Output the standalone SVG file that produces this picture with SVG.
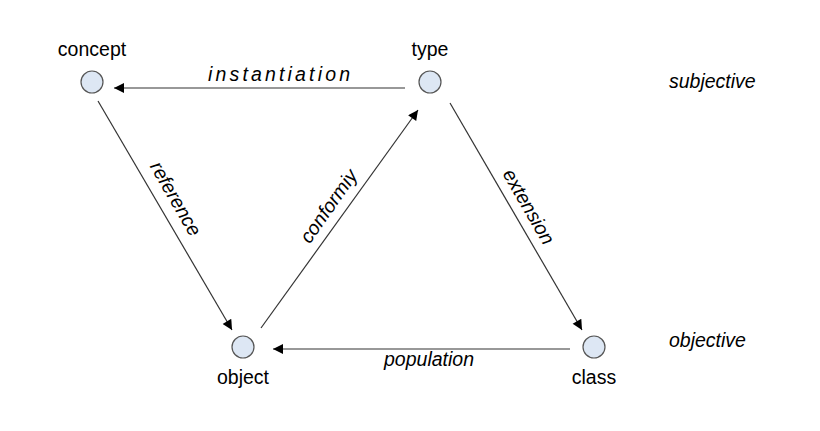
<svg xmlns="http://www.w3.org/2000/svg" width="820" height="431" viewBox="0 0 820 431">
<style>
text{font-family:"Liberation Sans",Arial,sans-serif;font-size:19.5px;fill:#000}
.i{font-style:italic}
circle{fill:#dde7f4;stroke:#555;stroke-width:1.2}
line{stroke:#333;stroke-width:1.2;marker-end:url(#a)}
</style>
<defs><marker id="a" viewBox="0 0 10 10" refX="10" refY="5" markerWidth="14" markerHeight="10" markerUnits="userSpaceOnUse" orient="auto"><path d="M0,0L10,5L0,10z" fill="#000"/></marker></defs>
<rect width="820" height="431" fill="#fff"/>
<g id="connectors">
<line x1="405" y1="88" x2="114" y2="88"/>
<line x1="98" y1="101" x2="232" y2="330"/>
<line x1="261" y1="328" x2="418" y2="110"/>
<line x1="450" y1="103" x2="582" y2="330"/>
<line x1="570" y1="349" x2="273" y2="349"/>
<text class="i" x="279" y="81" text-anchor="middle" textLength="142">instantiation</text>
<text class="i" transform="translate(170,202) rotate(60)" text-anchor="middle">reference</text>
<text class="i" transform="translate(334,210) rotate(-55)" text-anchor="middle">conformiy</text>
<text class="i" transform="translate(523,210) rotate(60)" text-anchor="middle">extension</text>
<text class="i" x="429" y="366" text-anchor="middle">population</text>
</g>
<g id="concept"><circle cx="92" cy="82" r="11"/><text x="92" y="56" text-anchor="middle">concept</text></g>
<g id="type"><circle cx="430" cy="82" r="11"/><text x="430" y="56" text-anchor="middle">type</text></g>
<g id="object"><circle cx="243" cy="347" r="11"/><text x="243" y="384" text-anchor="middle">object</text></g>
<g id="class"><circle cx="594" cy="347" r="11"/><text x="594" y="384" text-anchor="middle">class</text></g>
<text class="i" x="669" y="88">subjective</text>
<text class="i" x="669" y="347">objective</text>
</svg>
